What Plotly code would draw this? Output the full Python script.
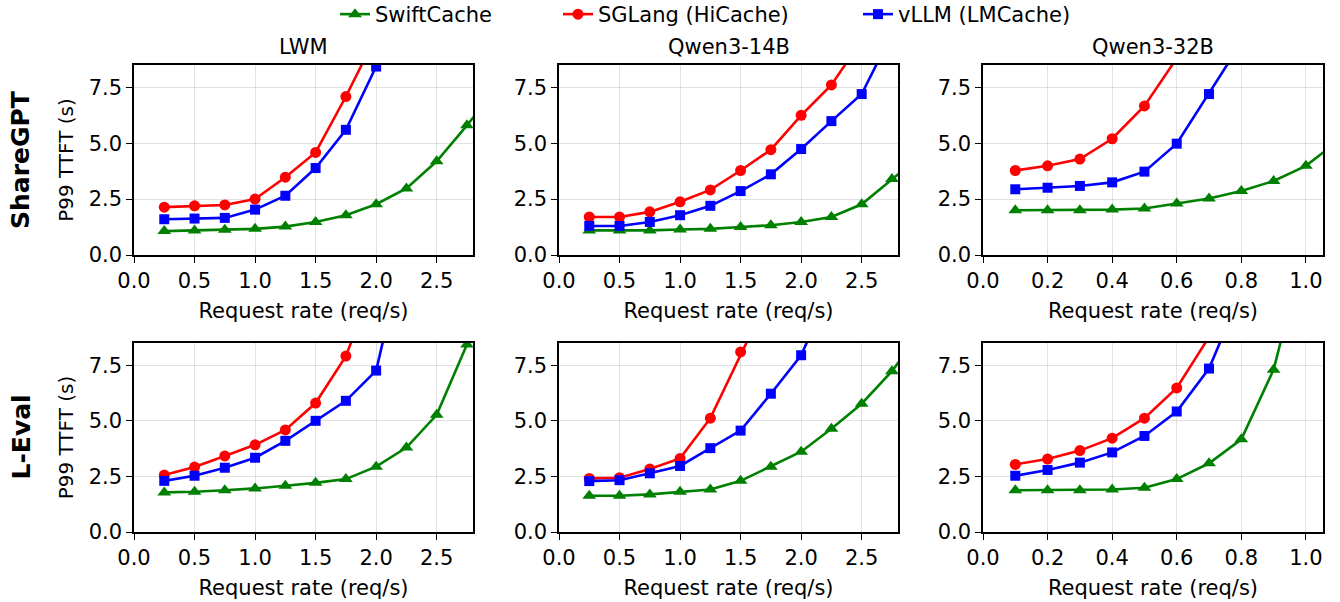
import plotly.graph_objects as go

# ---------------- data ----------------
series_names = ["SwiftCache", "SGLang (HiCache)", "vLLM (LMCache)"]
colors = ["#008000", "#ff0000", "#0000ff"]
symbols = ["triangle-up", "circle", "square"]
marker_sizes = [12, 11, 10]

row_labels = ["ShareGPT", "L-Eval"]
col_titles = ["LWM", "Qwen3-14B", "Qwen3-32B"]

# ShareGPT / LWM
sg_lwm_swift_x = [0.25, 0.5, 0.75, 1.0, 1.25, 1.5, 1.75, 2.0, 2.25, 2.5, 2.75, 3.0]
sg_lwm_swift_y = [1.07, 1.10, 1.13, 1.17, 1.27, 1.48, 1.78, 2.27, 2.98, 4.19, 5.80, 7.5]
sg_lwm_sglang_x = [0.25, 0.5, 0.75, 1.0, 1.25, 1.5, 1.75, 2.0]
sg_lwm_sglang_y = [2.14, 2.20, 2.24, 2.50, 3.48, 4.59, 7.09, 9.8]
sg_lwm_vllm_x = [0.25, 0.5, 0.75, 1.0, 1.25, 1.5, 1.75, 2.0]
sg_lwm_vllm_y = [1.60, 1.63, 1.66, 2.03, 2.65, 3.89, 5.60, 8.43]

# ShareGPT / Qwen3-14B
sg_q14_swift_x = [0.25, 0.5, 0.75, 1.0, 1.25, 1.5, 1.75, 2.0, 2.25, 2.5, 2.75, 3.0]
sg_q14_swift_y = [1.10, 1.10, 1.10, 1.14, 1.17, 1.25, 1.33, 1.48, 1.70, 2.27, 3.40, 4.5]
sg_q14_sglang_x = [0.25, 0.5, 0.75, 1.0, 1.25, 1.5, 1.75, 2.0, 2.25, 2.5]
sg_q14_sglang_y = [1.70, 1.70, 1.93, 2.38, 2.91, 3.78, 4.71, 6.25, 7.61, 9.6]
sg_q14_vllm_x = [0.25, 0.5, 0.75, 1.0, 1.25, 1.5, 1.75, 2.0, 2.25, 2.5, 2.75]
sg_q14_vllm_y = [1.30, 1.30, 1.48, 1.78, 2.20, 2.86, 3.61, 4.74, 5.99, 7.20, 9.9]

# ShareGPT / Qwen3-32B
sg_q32_swift_x = [0.1, 0.2, 0.3, 0.4, 0.5, 0.6, 0.7, 0.8, 0.9, 1.0, 1.1]
sg_q32_swift_y = [2.00, 2.00, 2.00, 2.03, 2.08, 2.30, 2.53, 2.86, 3.31, 3.99, 5.1]
sg_q32_sglang_x = [0.1, 0.2, 0.3, 0.4, 0.5, 0.6]
sg_q32_sglang_y = [3.78, 3.99, 4.29, 5.20, 6.67, 8.8]
sg_q32_vllm_x = [0.1, 0.2, 0.3, 0.4, 0.5, 0.6, 0.7, 0.8]
sg_q32_vllm_y = [2.94, 3.01, 3.09, 3.25, 3.73, 4.98, 7.20, 9.5]

# L-Eval / LWM
le_lwm_swift_x = [0.25, 0.5, 0.75, 1.0, 1.25, 1.5, 1.75, 2.0, 2.25, 2.5, 2.75]
le_lwm_swift_y = [1.78, 1.81, 1.88, 1.96, 2.08, 2.21, 2.38, 2.94, 3.80, 5.27, 8.43]
le_lwm_sglang_x = [0.25, 0.5, 0.75, 1.0, 1.25, 1.5, 1.75, 2.0]
le_lwm_sglang_y = [2.56, 2.92, 3.42, 3.92, 4.59, 5.80, 7.91, 11.5]
le_lwm_vllm_x = [0.25, 0.5, 0.75, 1.0, 1.25, 1.5, 1.75, 2.0, 2.25]
le_lwm_vllm_y = [2.30, 2.53, 2.89, 3.34, 4.10, 5.00, 5.90, 7.26, 13.1]

# L-Eval / Qwen3-14B
le_q14_swift_x = [0.25, 0.5, 0.75, 1.0, 1.25, 1.5, 1.75, 2.0, 2.25, 2.5, 2.75, 3.0]
le_q14_swift_y = [1.63, 1.63, 1.69, 1.81, 1.91, 2.30, 2.94, 3.61, 4.64, 5.77, 7.23, 9.1]
le_q14_sglang_x = [0.25, 0.5, 0.75, 1.0, 1.25, 1.5, 1.75]
le_q14_sglang_y = [2.41, 2.44, 2.83, 3.31, 5.12, 8.10, 10.8]
le_q14_vllm_x = [0.25, 0.5, 0.75, 1.0, 1.25, 1.5, 1.75, 2.0, 2.25]
le_q14_vllm_y = [2.29, 2.33, 2.64, 2.97, 3.77, 4.56, 6.22, 7.95, 11.0]

# L-Eval / Qwen3-32B
le_q32_swift_x = [0.1, 0.2, 0.3, 0.4, 0.5, 0.6, 0.7, 0.8, 0.9, 1.0]
le_q32_swift_y = [1.88, 1.88, 1.88, 1.91, 1.99, 2.38, 3.09, 4.17, 7.30, 13.0]
le_q32_sglang_x = [0.1, 0.2, 0.3, 0.4, 0.5, 0.6, 0.7]
le_q32_sglang_y = [3.04, 3.28, 3.66, 4.22, 5.12, 6.48, 8.77]
le_q32_vllm_x = [0.1, 0.2, 0.3, 0.4, 0.5, 0.6, 0.7, 0.8]
le_q32_vllm_y = [2.53, 2.79, 3.12, 3.58, 4.32, 5.42, 7.35, 10.8]

panels = [
    [(sg_lwm_swift_x, sg_lwm_swift_y), (sg_lwm_sglang_x, sg_lwm_sglang_y), (sg_lwm_vllm_x, sg_lwm_vllm_y)],
    [(sg_q14_swift_x, sg_q14_swift_y), (sg_q14_sglang_x, sg_q14_sglang_y), (sg_q14_vllm_x, sg_q14_vllm_y)],
    [(sg_q32_swift_x, sg_q32_swift_y), (sg_q32_sglang_x, sg_q32_sglang_y), (sg_q32_vllm_x, sg_q32_vllm_y)],
    [(le_lwm_swift_x, le_lwm_swift_y), (le_lwm_sglang_x, le_lwm_sglang_y), (le_lwm_vllm_x, le_lwm_vllm_y)],
    [(le_q14_swift_x, le_q14_swift_y), (le_q14_sglang_x, le_q14_sglang_y), (le_q14_vllm_x, le_q14_vllm_y)],
    [(le_q32_swift_x, le_q32_swift_y), (le_q32_sglang_x, le_q32_sglang_y), (le_q32_vllm_x, le_q32_vllm_y)],
]

x_ranges = [[0, 2.8], [0, 2.8], [0, 1.053]]
x_dticks = [0.5, 0.5, 0.2]
y_range = [0, 8.5]
y_tickvals = [0, 2.5, 5.0, 7.5]

# ---------------- layout geometry ----------------
W, H = 1340, 602
col_px = [(134, 473), (559, 898), (983, 1323)]
row_px = [(65, 255), (343, 532)]
legend_text_px = [375, 598, 898]
legend_names = ["legend", "legend2", "legend3"]

FONT = "DejaVu Sans"
FS = 21

fig = go.Figure()
layout = dict(
    width=W, height=H,
    margin=dict(l=0, r=0, t=0, b=0, autoexpand=False),
    paper_bgcolor="white", plot_bgcolor="white",
    font=dict(family=FONT, size=FS, color="black"),
    showlegend=True,
)
for i, ln in enumerate(legend_names):
    layout[ln] = dict(orientation="h", x=(legend_text_px[i] - 40) / W, xanchor="left",
                      y=1.01, yanchor="top", font=dict(family=FONT, size=FS),
                      bgcolor="rgba(0,0,0,0)", itemwidth=30)

annotations = []
for r in range(2):
    for c in range(3):
        k = r * 3 + c
        idx = k + 1
        xname = "xaxis" if idx == 1 else f"xaxis{idx}"
        yname = "yaxis" if idx == 1 else f"yaxis{idx}"
        xref = "x" if idx == 1 else f"x{idx}"
        yref = "y" if idx == 1 else f"y{idx}"
        x0, x1 = col_px[c]
        yt, yb = row_px[r]
        layout[xname] = dict(
            domain=[x0 / W, x1 / W], anchor=yref, range=x_ranges[c],
            dtick=x_dticks[c], tick0=0, tickformat=".1f",
            showline=True, mirror=True, linecolor="black", linewidth=1.5,
            ticks="outside", ticklen=6, tickwidth=1.3, tickcolor="black",
            showgrid=True, gridcolor="rgba(160,160,160,0.3)", gridwidth=1,
            zeroline=False, tickfont=dict(family=FONT, size=FS),
            title=dict(text="Request rate (req/s)", standoff=11,
                       font=dict(family=FONT, size=FS)),
            automargin=False,
        )
        layout[yname] = dict(
            domain=[1 - yb / H, 1 - yt / H], anchor=xref, range=y_range,
            tickvals=y_tickvals, tickformat=".1f",
            showline=True, mirror=True, linecolor="black", linewidth=1.5,
            ticks="outside", ticklen=6, tickwidth=1.3, tickcolor="black",
            showgrid=True, gridcolor="rgba(160,160,160,0.3)", gridwidth=1,
            zeroline=False, tickfont=dict(family=FONT, size=FS),
            automargin=False,
        )
        if c == 0:
            layout[yname]["title"] = dict(text="P99 TTFT (s)", standoff=10,
                                          font=dict(family=FONT, size=FS - 1))
        for s in range(3):
            xs, ys = panels[k][s]
            fig.add_trace(go.Scatter(
                x=xs, y=ys, mode="lines+markers", name=series_names[s],
                legendgroup=series_names[s], showlegend=(k == 0),
                legend=legend_names[s],
                line=dict(color=colors[s], width=2.6),
                marker=dict(symbol=symbols[s], size=marker_sizes[s], color=colors[s]),
                xaxis=xref, yaxis=yref, cliponaxis=True,
            ))
        if r == 0:
            annotations.append(dict(
                text=col_titles[c], x=(x0 + x1) / 2 / W, y=1 - 47 / H,
                xref="paper", yref="paper", xanchor="center", yanchor="middle",
                showarrow=False, font=dict(family=FONT, size=FS)))
    yt, yb = row_px[r]
    annotations.append(dict(
        text="<b>" + row_labels[r] + "</b>", x=21 / W, y=1 - (yt + yb) / 2 / H,
        xref="paper", yref="paper", xanchor="center", yanchor="middle",
        textangle=-90, showarrow=False, font=dict(family=FONT, size=25)))

layout["annotations"] = annotations
fig.update_layout(**layout)
fig.write_html("out.html", config={"displayModeBar": False},
               post_script="document.body.style.margin='0px';")
